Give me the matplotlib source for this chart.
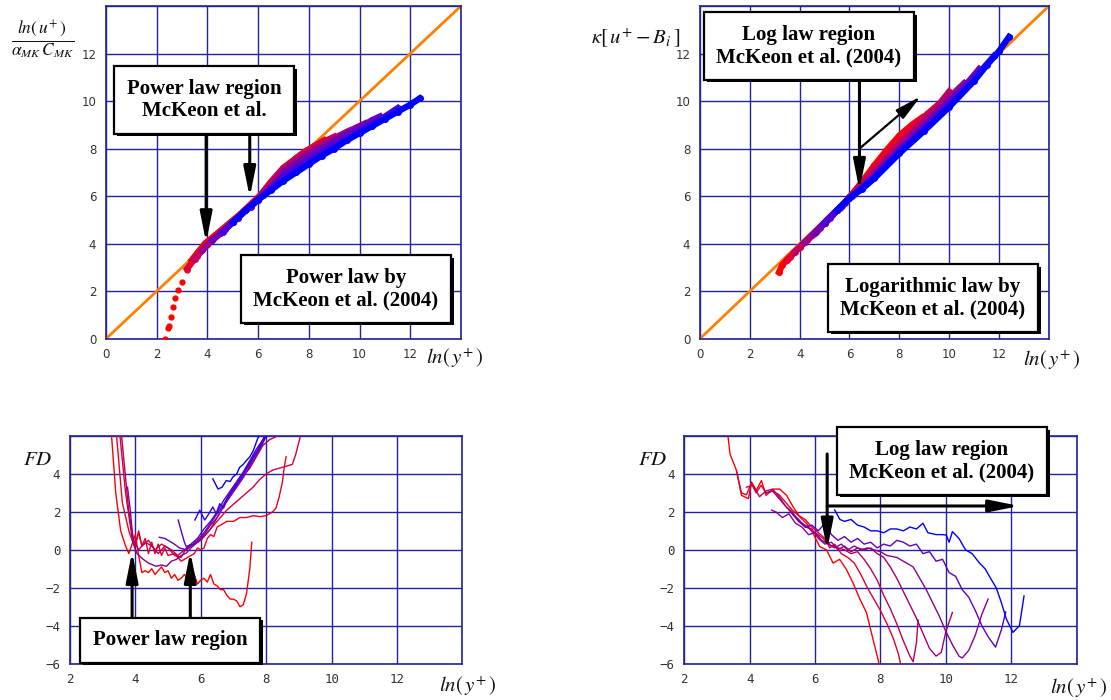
import numpy as np
import matplotlib
matplotlib.use("Agg")
import matplotlib.pyplot as plt
import matplotlib.patheffects as pe

plt.rcParams['mathtext.fontset'] = 'stix'

# colours from low Re (red) to high Re (blue)
cols = ['#ff0000', '#e0003a', '#c0005e', '#9a008e', '#7000b8', '#4a00dc', '#0000ff']
grid_col = '#23239a'
orange = '#ff8000'

# ---------------- top-left: power law, ln(u+)/(a C) vs ln(y+) ----------------
tl_tail_x = [2.33, 2.46, 2.5, 2.57, 2.63, 2.72, 2.85, 2.99, 3.18, 3.38]
tl_tail_y = [0.0, 0.44, 0.53, 0.93, 1.35, 1.70, 2.05, 2.40, 2.89, 3.31]

tl_x = [
    [3.38, 3.64, 3.91, 4.3, 4.8, 5.3, 5.8, 6.3, 6.8, 7.2, 7.5, 7.8, 8.2, 8.6],
    [3.2, 3.6, 4.0, 4.5, 5.0, 5.5, 6.0, 6.5, 7.0, 7.5, 8.0, 8.5, 9.0],
    [3.5, 4.0, 4.5, 5.0, 5.5, 6.0, 6.5, 7.0, 7.5, 8.0, 8.5, 9.0, 9.6],
    [3.8, 4.2, 4.7, 5.2, 5.7, 6.2, 6.6, 7.0, 7.5, 8.0, 8.5, 9.0, 9.5, 10.0, 10.2],
    [4.2, 4.7, 5.2, 5.7, 6.2, 6.6, 7.0, 7.5, 8.0, 8.5, 9.0, 9.5, 10.0, 10.5, 10.8],
    [4.6, 5.0, 5.5, 6.0, 6.5, 7.0, 7.5, 8.0, 8.5, 9.0, 9.5, 10.0, 10.5, 11.0, 11.5],
    [5.0, 5.5, 6.0, 6.5, 7.0, 7.5, 8.0, 8.5, 9.0, 9.5, 10.0, 10.5, 11.0, 11.5, 12.0, 12.37],
]
tl_y = [
    [3.31, 3.66, 4.01, 4.35, 4.8, 5.25, 5.75, 6.25, 6.8, 7.25, 7.6, 7.85, 8.1, 8.35],
    [2.95, 3.5, 3.98, 4.45, 4.9, 5.4, 5.92, 6.6, 7.2, 7.6, 7.95, 8.25, 8.5],
    [3.35, 3.98, 4.45, 4.9, 5.4, 5.9, 6.55, 7.15, 7.55, 7.9, 8.2, 8.45, 8.75],
    [3.72, 4.15, 4.6, 5.1, 5.6, 6.05, 6.5, 7.05, 7.45, 7.8, 8.1, 8.4, 8.7, 8.95, 9.05],
    [4.15, 4.6, 5.1, 5.55, 6.05, 6.45, 6.95, 7.35, 7.7, 8.0, 8.3, 8.6, 8.9, 9.2, 9.35],
    [4.5, 4.9, 5.4, 5.85, 6.3, 6.8, 7.15, 7.5, 7.85, 8.15, 8.45, 8.75, 9.05, 9.35, 9.7],
    [4.9, 5.4, 5.85, 6.25, 6.65, 7.0, 7.35, 7.7, 8.0, 8.35, 8.65, 8.95, 9.25, 9.55, 9.85, 10.11],
]

# ---------------- top-right: log law, kappa[u+ - B_i] vs ln(y+) ----------------
tr_x = [
    [3.18, 3.3, 3.6, 4.0, 4.5, 5.0, 5.5, 6.0, 6.5, 7.0, 7.5, 8.0, 8.5, 8.9],
    [3.5, 4.0, 4.5, 5.0, 5.5, 6.0, 6.5, 7.0, 7.5, 8.0, 8.5, 9.0, 9.5],
    [3.8, 4.3, 4.8, 5.3, 5.8, 6.3, 7.0, 7.5, 8.0, 8.5, 9.0, 9.5, 10.0],
    [4.2, 4.7, 5.2, 5.7, 6.2, 6.6, 7.0, 7.5, 8.0, 8.5, 9.0, 9.5, 10.0, 10.6],
    [4.6, 5.1, 5.6, 6.1, 6.6, 7.0, 8.0, 9.0, 10.0, 10.6, 11.2],
    [5.0, 5.5, 6.0, 6.5, 7.0, 8.0, 9.0, 10.0, 11.0, 11.8],
    [5.5, 6.0, 6.5, 7.0, 8.0, 9.0, 10.0, 11.0, 11.5, 12.0, 12.4],
]
tr_y = [
    [2.81, 3.1, 3.45, 3.85, 4.35, 4.85, 5.4, 5.95, 6.6, 7.3, 7.95, 8.55, 9.0, 9.3],
    [3.3, 3.85, 4.35, 4.85, 5.4, 5.95, 6.55, 7.15, 7.75, 8.35, 8.85, 9.35, 9.8],
    [3.65, 4.15, 4.65, 5.2, 5.72, 6.25, 7.05, 7.6, 8.2, 8.7, 9.2, 9.75, 10.4],
    [4.05, 4.55, 5.1, 5.6, 6.1, 6.5, 6.95, 7.5, 8.05, 8.6, 9.1, 9.6, 10.15, 10.75],
    [4.45, 5.0, 5.5, 6.0, 6.45, 6.85, 7.95, 8.95, 10.0, 10.6, 11.35],
    [4.85, 5.4, 5.92, 6.35, 6.8, 7.9, 8.85, 9.85, 10.95, 11.9],
    [5.4, 5.92, 6.3, 6.75, 7.8, 8.75, 9.75, 10.85, 11.5, 12.1, 12.7],
]

# ---------------- bottom-left: FD for power law ----------------
bl_cols = ['#ff0000', '#f00020', '#d8003a', '#b8005a', '#8a0090', '#6a00b0', '#5000d0', '#3000f0', '#0000ff']
bl_x = [
    [3.25, 3.4, 3.55, 3.7, 3.8, 3.9, 4.0, 4.1, 4.2, 4.3, 4.4, 4.5, 4.6, 4.7, 4.8, 4.9, 5.0, 5.1, 5.2, 5.3,
     5.4, 5.5, 5.6, 5.7, 5.8, 5.9, 6.0, 6.1, 6.2, 6.3, 6.4, 6.5, 6.6, 6.7, 6.8, 6.9, 7.0, 7.1, 7.2, 7.3,
     7.4, 7.5, 7.56],
    [3.4, 3.6, 3.8, 3.9, 4.0, 4.1, 4.2, 4.3, 4.4, 4.5, 4.6, 4.7, 4.8, 4.9, 5.0, 5.2, 5.4, 5.6, 5.8, 5.9,
     6.0, 6.1, 6.2, 6.3, 6.4, 6.5, 6.6, 6.8, 7.0, 7.2, 7.4, 7.6, 7.8, 8.0, 8.2, 8.3, 8.4, 8.5, 8.55, 8.61],
    [3.5, 3.7, 3.9, 4.0, 4.1, 4.2, 4.4, 4.6, 4.8, 5.0, 5.2, 5.4, 5.6, 5.8, 6.0, 6.2, 6.4, 6.6, 6.8, 7.0,
     7.2, 7.4, 7.6, 7.8, 8.0, 8.2, 8.4, 8.6, 8.8, 8.9, 9.05],
    [3.55, 3.8, 3.95, 4.1, 4.3, 4.5, 4.7, 4.9, 5.1, 5.3, 5.5, 5.7, 5.9, 6.1, 6.3, 6.5, 6.7, 6.9, 7.1, 7.3,
     7.5, 7.7, 7.9, 8.1, 8.35],
    [3.76, 3.85, 3.93, 4.05, 4.24, 4.4, 4.64, 4.8, 4.95, 5.1, 5.26, 5.4, 5.56, 5.7, 5.9, 6.1, 6.3, 6.5,
     6.7, 6.9, 7.1, 7.3, 7.5, 7.7, 7.9, 8.0],
    [4.73, 4.9, 5.15, 5.35, 5.56, 5.7, 5.9, 6.1, 6.3, 6.5, 6.7, 6.9, 7.1, 7.3, 7.5, 7.7, 7.95],
    [5.31, 5.4, 5.5, 5.56, 5.7, 5.9, 6.1, 6.3, 6.5, 6.7, 6.9, 7.1, 7.3, 7.5, 7.7, 7.98],
    [5.82, 5.97, 6.12, 6.25, 6.37, 6.47, 6.58, 6.7, 6.8, 7.0, 7.2, 7.4, 7.6, 7.8, 8.0],
    [6.37, 6.53, 6.65, 6.78, 6.9, 6.98, 7.1, 7.19, 7.3, 7.39, 7.5, 7.6, 7.75, 7.8],
]
bl_y = [
    [6.5, 3.0, 1.0, 0.2, -0.2, 0.3, 0.8, -0.3, -1.2, -1.1, -1.2, -1.0, -1.3, -1.1, -0.9, -1.2, -1.1, -1.5,
     -1.3, -1.6, -1.5, -1.3, -1.5, -1.6, -1.3, -1.8, -1.6, -1.5, -1.7, -1.3, -1.8, -1.9, -2.1, -2.1, -2.4,
     -2.6, -2.6, -2.7, -3.0, -2.9, -2.3, -1.0, 0.4],
    [6.5, 2.5, 1.0, 0.5, 0.2, 1.0, 0.2, 0.6, -0.2, 0.4, -0.2, 0.3, -0.3, 0.1, -0.3, -0.2, -0.6, -0.4,
     -0.2, 0.1, 0.0, 0.1, 0.6, 0.8, 0.7, 1.2, 1.3, 1.5, 1.5, 1.7, 1.7, 1.8, 1.75, 1.8, 2.0, 2.2, 2.8,
     3.6, 4.3, 4.9],
    [6.5, 3.0, 0.6, 0.3, 0.9, 0.2, 0.5, 0.0, 0.3, 0.1, -0.3, -0.4, 0.2, 0.3, 0.5, 0.9, 1.3, 1.7, 2.1,
     2.4, 2.7, 3.0, 3.3, 3.7, 4.0, 4.2, 4.3, 4.4, 4.5, 5.0, 6.0],
    [6.5, 2.0, 0.5, 0.0, 0.4, 0.2, -0.2, 0.2, 0.0, -0.3, 0.0, 0.2, 0.4, 0.7, 1.1, 1.7, 2.3, 2.9, 3.4,
     3.9, 4.3, 4.9, 5.5, 5.8, 6.0],
    [3.3, 2.0, 0.35, -0.2, -0.5, -0.7, -0.87, -0.8, -0.87, -0.6, -0.5, -0.3, -0.17, 0.1, 0.4, 0.8, 1.3,
     1.7, 2.3, 2.8, 3.3, 3.8, 4.4, 5.0, 5.6, 6.0],
    [0.66, 0.6, 0.35, 0.1, 0.0, 0.2, 0.5, 0.9, 1.4, 1.9, 2.4, 3.0, 3.5, 4.0, 4.5, 5.1, 6.0],
    [1.57, 1.0, 0.4, 0.15, 0.3, 0.6, 1.1, 1.5, 2.0, 2.6, 3.1, 3.6, 4.1, 4.7, 5.3, 6.0],
    [1.57, 2.09, 1.57, 1.9, 2.26, 1.9, 2.43, 2.2, 2.7, 3.2, 3.7, 4.3, 4.9, 5.4, 6.0],
    [3.74, 3.2, 3.3, 3.65, 3.6, 3.83, 4.0, 4.35, 4.5, 4.7, 4.9, 5.2, 5.9, 6.0],
]

# ---------------- bottom-right: FD for log law ----------------
br_cols = ['#ff0000', '#e00030', '#c00058', '#a00078', '#8a0098', '#6000c0', '#0000ff']
br_x = [
    [3.34, 3.4, 3.6, 3.75, 3.96, 4.06, 4.2, 4.36, 4.5, 4.72, 4.92, 5.13, 5.33, 5.53, 5.74, 5.94, 6.14,
     6.35, 6.55, 6.75, 6.96, 7.16, 7.37, 7.57, 7.77, 7.93, 8.0],
    [3.6, 3.75, 3.9, 4.05, 4.2, 4.35, 4.5, 4.7, 4.9, 5.1, 5.3, 5.5, 5.7, 5.9, 6.1, 6.3, 6.45, 6.6, 6.8,
     7.0, 7.2, 7.4, 7.6, 7.8, 8.0, 8.2, 8.4, 8.55, 8.65],
    [3.9, 4.1, 4.3, 4.5, 4.7, 4.9, 5.1, 5.3, 5.5, 5.7, 5.9, 6.1, 6.3, 6.5, 6.7, 6.9, 7.1, 7.3, 7.5, 7.7,
     7.9, 8.1, 8.3, 8.5, 8.7, 8.9, 9.0, 9.1, 9.15],
    [4.5, 4.7, 4.9, 5.1, 5.3, 5.5, 5.7, 5.9, 6.1, 6.3, 6.5, 6.7, 6.9, 7.1, 7.3, 7.5, 7.7, 7.9, 8.1, 8.3,
     8.5, 8.7, 8.9, 9.1, 9.3, 9.5, 9.7, 9.86, 10.0, 10.2],
    [4.67, 4.8, 5.0, 5.2, 5.4, 5.6, 5.8, 6.0, 6.2, 6.4, 6.6, 6.8, 7.0, 7.2, 7.4, 7.6, 7.8, 8.0, 8.2, 8.5,
     8.8, 9.0, 9.2, 9.4, 9.6, 9.8, 10.0, 10.2, 10.4, 10.5, 10.7, 10.9, 11.1, 11.29],
    [5.3, 5.5, 5.7, 5.9, 6.1, 6.3, 6.5, 6.7, 6.9, 7.1, 7.3, 7.5, 7.7, 7.9, 8.1, 8.3, 8.5, 8.7, 8.9, 9.1,
     9.3, 9.5, 9.7, 9.9, 10.1, 10.3, 10.5, 10.7, 10.9, 11.1, 11.3, 11.52, 11.7, 11.83],
    [6.6, 6.76, 6.9, 7.1, 7.3, 7.5, 7.7, 7.9, 8.1, 8.3, 8.5, 8.7, 8.9, 9.1, 9.3, 9.45, 9.7, 9.9, 10.01,
     10.1, 10.2, 10.4, 10.6, 10.8, 11.03, 11.2, 11.4, 11.54, 11.7, 11.85, 12.05, 12.25, 12.39],
]
br_y = [
    [5.95, 5.04, 4.17, 2.87, 2.7, 3.57, 3.13, 3.65, 2.87, 3.2, 3.2, 2.87, 2.26, 1.74, 1.39, 0.87, 0.17,
     0.0, -0.7, -0.5, -1.04, -1.74, -2.6, -3.3, -4.7, -5.8, -6.5],
    [4.1, 3.0, 2.9, 3.5, 3.0, 3.4, 3.0, 3.1, 2.9, 2.5, 2.1, 1.8, 1.6, 1.2, 0.9, 0.6, 0.1, 0.3, -0.2,
     -0.4, -0.7, -1.3, -2.0, -2.6, -3.2, -3.9, -4.7, -5.5, -6.3],
    [3.3, 3.4, 2.8, 3.1, 3.2, 2.8, 2.3, 2.0, 1.5, 1.3, 1.0, 0.8, 0.5, 0.2, 0.1, 0.0, -0.2, -0.1, -0.5,
     -1.0, -1.6, -2.4, -3.1, -3.9, -4.8, -5.6, -5.9, -4.9, -3.7],
    [3.0, 3.1, 2.7, 2.3, 1.9, 1.6, 1.2, 1.1, 0.6, 0.3, 0.4, 0.0, 0.2, -0.1, 0.1, 0.0, 0.1, -0.2, -0.4,
     -0.9, -1.5, -2.2, -2.9, -3.6, -4.4, -5.2, -5.6, -5.4, -4.3, -3.3],
    [2.09, 2.0, 1.7, 1.9, 1.4, 1.2, 0.8, 0.9, 0.5, 0.3, 0.1, 0.3, 0.0, 0.2, 0.0, 0.1, 0.0, -0.1, -0.3,
     -0.4, -0.7, -0.9, -1.5, -2.1, -2.8, -3.5, -4.3, -5.0, -5.6, -5.7, -5.3, -4.5, -3.4, -2.6],
    [1.9, 1.5, 1.2, 1.3, 1.0, 1.4, 0.8, 0.5, 0.7, 0.4, 0.6, 0.3, 0.4, 0.1, 0.3, 0.2, 0.5, 0.4, 0.2, 0.3,
     -0.2, -0.1, -0.6, -0.5, -1.2, -1.4, -2.1, -2.5, -3.2, -4.0, -4.6, -5.13, -4.2, -3.27],
    [2.1, 1.6, 1.5, 1.6, 1.3, 1.2, 1.0, 1.0, 0.9, 1.1, 1.1, 1.0, 1.2, 1.1, 1.4, 0.9, 0.8, 0.8, 0.78, 0.4,
     0.96, 0.6, 0.0, -0.2, -0.7, -1.0, -1.6, -2.0, -2.8, -3.65, -4.35, -4.0, -2.43],
]

ticks_top = [0, 2, 4, 6, 8, 10, 12]
ticks_bx = [2, 4, 6, 8, 10, 12]
ticks_by = [-6, -4, -2, 0, 2, 4]
bot_ylabels = ['\u22126', '\u22124', '\u22122', '0', '2', '4']

fig = plt.figure(figsize=(11.11, 7), dpi=100)
ax_tl = fig.add_axes([0.0954, 0.5161, 0.3195, 0.4753])
ax_tr = fig.add_axes([0.630, 0.5161, 0.3141, 0.4753])
ax_bl = fig.add_axes([0.063, 0.0519, 0.3531, 0.3253])
ax_br = fig.add_axes([0.6159, 0.0519, 0.3532, 0.3253])


def style_axes(ax, xlim, ylim, xt, yt, xlabs, ylabs, **font):
    ax.set_xlim(*xlim)
    ax.set_ylim(*ylim)
    ax.set_xticks(list(xt) + [xlim[1]])
    ax.set_yticks(list(yt) + [ylim[1]])
    ax.set_xticklabels(xlabs + [''], **font)
    ax.set_yticklabels(ylabs + [''], **font)
    ax.grid(True, color=grid_col, lw=1.0)
    ax.set_axisbelow(True)
    for s in ax.spines.values():
        s.set_color(grid_col)
        s.set_linewidth(1.2)
    ax.tick_params(length=0, pad=7, labelcolor='#333333')


for ax in (ax_tl, ax_tr):
    style_axes(ax, (0, 14), (0, 14), ticks_top, ticks_top,
               [str(t) for t in ticks_top], [str(t) for t in ticks_top], fontsize=8.5)
    ax.plot([0, 14], [0, 14], color=orange, lw=2, zorder=2)

for ax in (ax_bl, ax_br):
    style_axes(ax, (2, 14), (-6, 6), ticks_bx, ticks_by,
               [str(t) for t in ticks_bx], bot_ylabels, family='DejaVu Sans Mono', fontsize=9)

# top-left data
ax_tl.plot(tl_tail_x, tl_tail_y, 'o', color=cols[0], ms=4.5, mec='none', zorder=3)
for x, y, c in zip(tl_x, tl_y, cols):
    ax_tl.plot(x, y, '-o', color=c, lw=4.5, ms=5, mec='none', zorder=3)

# top-right data
for x, y, c in zip(tr_x, tr_y, cols):
    ax_tr.plot(x, y, '-o', color=c, lw=4.5, ms=5, mec='none', zorder=3)

# bottom panels
for x, y, c in zip(bl_x, bl_y, bl_cols):
    ax_bl.plot(x, y, color=c, lw=1.0, zorder=3)
for x, y, c in zip(br_x, br_y, br_cols):
    ax_br.plot(x, y, color=c, lw=1.0, zorder=3)

# arrows
arr = dict(arrowstyle='-|>,head_length=1.8,head_width=0.36', color='k', lw=2.2,
           mutation_scale=10, shrinkA=0, shrinkB=0)
ax_tl.annotate('', xy=(3.95, 4.05), xytext=(3.95, 8.6), arrowprops=arr, zorder=5)
ax_tl.annotate('', xy=(5.67, 5.95), xytext=(5.67, 8.5), arrowprops=arr, zorder=5)
ax_tr.annotate('', xy=(6.4, 6.25), xytext=(6.4, 10.9), arrowprops=arr, zorder=5)
arr2 = dict(arr, lw=1.6, arrowstyle='-|>,head_length=1.6,head_width=0.35')
ax_tr.annotate('', xy=(8.86, 10.2), xytext=(6.4, 8.0), arrowprops=arr2, zorder=5)
ax_bl.annotate('', xy=(3.9, -0.1), xytext=(3.9, -3.55), arrowprops=arr, zorder=5)
ax_bl.annotate('', xy=(5.68, -0.1), xytext=(5.68, -3.55), arrowprops=arr, zorder=5)
ax_br.annotate('', xy=(6.37, 0.0), xytext=(6.37, 5.05), arrowprops=arr, zorder=5)
ax_br.annotate('', xy=(12.25, 2.31), xytext=(6.37, 2.31), arrowprops=arr, zorder=5)

W, H = 1111.0, 700.0


def box(px, py, txt):
    t = fig.text(px / W, 1 - py / H, txt, ha='center', va='center', family='Liberation Serif',
                 weight='bold', fontsize=15, linespacing=1.15,
                 bbox=dict(boxstyle='square,pad=0.6', fc='white', ec='k', lw=1.6))
    t.get_bbox_patch().set_path_effects([
        pe.SimplePatchShadow(offset=(2, -2), shadow_rgbFace='k', alpha=1.0), pe.Normal()])
    return t


box(204, 100, 'Power law region\nMcKeon et al.')
box(346, 289, 'Power law by\nMcKeon et al. (2004)')
box(809, 46, 'Log law region\nMcKeon et al. (2004)')
box(933, 298, 'Logarithmic law by\nMcKeon et al. (2004)')
box(170, 640, 'Power law region')
box(942, 461, 'Log law region\nMcKeon et al. (2004)')

# axis labels
lab_kw = dict(ha='center', va='center', fontsize=15, color='#111111')
fig.text(43 / W, 1 - 40 / H, r'$\dfrac{ln\left(\,u^{+}\,\right)}{\alpha_{MK}\,C_{MK}}$',
         ha='center', va='center', fontsize=12.5, color='#111111')
fig.text(636 / W, 1 - 38 / H, r'$\kappa\left[\,u^{+}-B_{i}\,\right]$', **lab_kw)
for (px, py) in [(455, 358), (1052, 360), (468, 686), (1079, 688)]:
    fig.text(px / W, 1 - py / H, r'$ln\left(\,y^{+}\,\right)$', **lab_kw)
for (px, py) in [(38, 459), (653, 459)]:
    fig.text(px / W, 1 - py / H, r'$FD$', **lab_kw)

fig.savefig('out.png', dpi=100)
